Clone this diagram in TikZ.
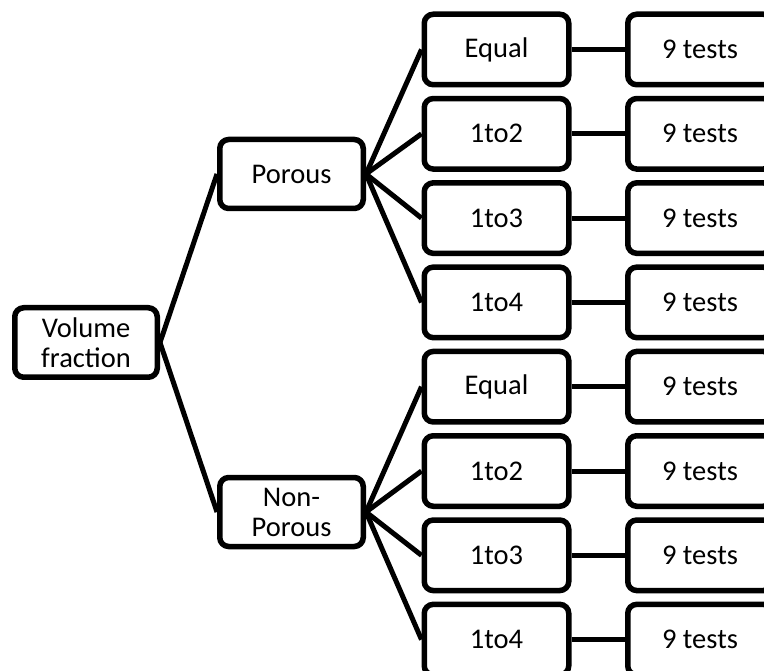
\documentclass[tikz,border=0pt]{standalone}
\usepackage{fontspec}
\setmainfont{Carlito}
\begin{document}
\begin{tikzpicture}[x=1pt,y=-1pt,
  box/.style={draw=black,line width=5.5pt,rounded corners=9pt,fill=white,
    minimum width=144.5pt,minimum height=70.5pt,inner sep=2pt,align=center,
    font=\fontsize{28.5}{30}\selectfont},
  conn/.style={line width=5pt}]
\useasboundingbox (0,0) rectangle (764,671);
\clip (0,0) rectangle (764,671);
\node[box,minimum width=142.5pt,minimum height=69.5pt] (vf) at (86,342.5) {Volume\\fraction};
\node[box,minimum width=143.5pt,minimum height=69pt] (p) at (291.5,174) {Porous};
\node[box,minimum width=143.5pt,minimum height=69pt] (np) at (291.5,512) {Non-\\Porous};
\foreach \i/\t in {1/Equal,2/1to2,3/1to3,4/1to4,5/Equal,6/1to2,7/1to3,8/1to4}{
  \pgfmathsetmacro{\yy}{49.5+(\i-1)*84.3}
  \node[box] (r\i) at (496.5,\yy) {\t};
  \node[box] (t\i) at (700,\yy) {9 tests};
}
\draw[conn] (vf.east) -- (p.west);
\draw[conn] (vf.east) -- (np.west);
\foreach \i in {1,2,3,4}{\draw[conn] (p.east) -- (r\i.west);}
\foreach \i in {5,6,7,8}{\draw[conn] (np.east) -- (r\i.west);}
\foreach \i in {1,...,8}{\draw[conn] (r\i.east) -- (t\i.west);}
\end{tikzpicture}
\end{document}
